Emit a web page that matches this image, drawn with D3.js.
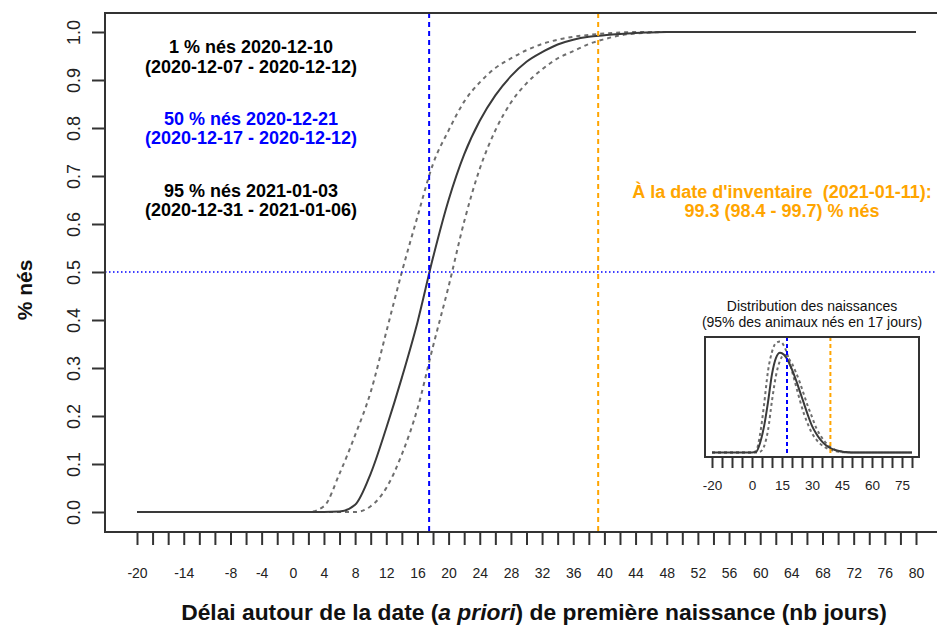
<!DOCTYPE html>
<html>
<head>
<meta charset="utf-8">
<script src="https://cdn.jsdelivr.net/npm/d3@7"></script>
<style>
  body { margin: 0; background: #fff; }
  svg { display: block; font-family: "Liberation Sans", Arial, sans-serif; }
</style>
</head>
<body>
<div id="chart"></div>
<script>
// days relative to the a priori first birth date
const days = [-20, -18, -16, -14, -12, -10, -8, -6, -4, -2, 0, 2, 4, 6, 8, 10, 12, 14, 16, 18, 20,
  22, 24, 26, 28, 30, 32, 34, 36, 38, 40, 42, 44, 46, 48, 50, 52, 54, 56, 58, 60,
  62, 64, 66, 68, 70, 72, 74, 76, 78, 80];

// cumulative proportion born (median, early bound, late bound)
const cdfMid = [0, 0, 0, 0, 0, 0, 0, 0, 0, 0, 0, 0, 0, 0.001, 0.015, 0.08, 0.175, 0.28, 0.395, 0.53, 0.65,
  0.745, 0.815, 0.868, 0.908, 0.938, 0.958, 0.974, 0.984, 0.99, 0.993, 0.996, 0.998, 0.999, 1, 1, 1, 1, 1, 1, 1,
  1, 1, 1, 1, 1, 1, 1, 1, 1, 1];
const cdfEarly = [0, 0, 0, 0, 0, 0, 0, 0, 0, 0, 0, 0, 0.012, 0.08, 0.16, 0.25, 0.375, 0.5, 0.615, 0.725, 0.795,
  0.855, 0.895, 0.925, 0.945, 0.962, 0.975, 0.984, 0.99, 0.994, 0.997, 0.999, 1, 1, 1, 1, 1, 1, 1, 1, 1,
  1, 1, 1, 1, 1, 1, 1, 1, 1, 1];
const cdfLate = [0, 0, 0, 0, 0, 0, 0, 0, 0, 0, 0, 0, 0, 0, 0, 0.012, 0.05, 0.12, 0.215, 0.345, 0.47,
  0.605, 0.715, 0.795, 0.853, 0.893, 0.922, 0.945, 0.96, 0.975, 0.985, 0.993, 0.997, 0.999, 1, 1, 1, 1, 1, 1, 1,
  1, 1, 1, 1, 1, 1, 1, 1, 1, 1];

// birth density for the inset
const densMid = [0, 0, 0, 0, 0, 0, 0, 0, 0, 0, 0, 0.0003, 0.0063, 0.0175, 0.034, 0.053, 0.064, 0.0674, 0.066, 0.062, 0.056,
  0.049, 0.041, 0.033, 0.025, 0.018, 0.013, 0.009, 0.006, 0.004, 0.0025, 0.0015, 0.0008, 0.0004, 0.0002, 0, 0, 0, 0, 0, 0,
  0, 0, 0, 0, 0, 0, 0, 0, 0, 0];
const densEarly = [0, 0, 0, 0, 0, 0, 0, 0, 0, 0, 0, 0.001, 0.012, 0.032, 0.055, 0.068, 0.074, 0.075, 0.072, 0.065, 0.055,
  0.045, 0.035, 0.026, 0.019, 0.013, 0.009, 0.006, 0.004, 0.0025, 0.0015, 0.0008, 0.0003, 0.0001, 0, 0, 0, 0, 0, 0, 0,
  0, 0, 0, 0, 0, 0, 0, 0, 0, 0];
const densLate = [0, 0, 0, 0, 0, 0, 0, 0, 0, 0, 0, 0, 0.0005, 0.004, 0.015, 0.035, 0.052, 0.062, 0.066, 0.064, 0.06,
  0.054, 0.047, 0.039, 0.031, 0.024, 0.017, 0.012, 0.008, 0.005, 0.003, 0.0015, 0.0008, 0.0003, 0, 0, 0, 0, 0, 0, 0,
  0, 0, 0, 0, 0, 0, 0, 0, 0, 0];

const medianDay = 17.5;
const inventoryDay = 39.2;

const xTickLabels = [-20, -14, -8, -4, 0, 4, 8, 12, 16, 20, 24, 28, 32, 36, 40, 44, 48, 52, 56, 60, 64, 68, 72, 76, 80];
const yTicks = [0, 0.1, 0.2, 0.3, 0.4, 0.5, 0.6, 0.7, 0.8, 0.9, 1.0];
const insetTickLabels = [-20, 0, 15, 30, 45, 60, 75];

const annotations = [
  { text: "1 % nés 2020-12-10", y: 53, color: "#000" },
  { text: "(2020-12-07 - 2020-12-12)", y: 73, color: "#000" },
  { text: "50 % nés 2020-12-21", y: 125, color: "#0000ff" },
  { text: "(2020-12-17 - 2020-12-12)", y: 144, color: "#0000ff" },
  { text: "95 % nés 2021-01-03", y: 197, color: "#000" },
  { text: "(2020-12-31 - 2021-01-06)", y: 216, color: "#000" }
];
const inventoryText = ["\u00C0 la date d'inventaire  (2021-01-11):", "99.3 (98.4 - 99.7) % nés"];
const insetTitle = ["Distribution des naissances", "(95% des animaux nés en 17 jours)"];

const BLUE = "#0000ff", ORANGE = "#ffa500", AXIS = "#333";

const svg = d3.select("#chart").append("svg").attr("width", 937).attr("height", 635);

const box = { left: 105, right: 950, top: 13, bottom: 532 };
const x = d3.scaleLinear().domain([-20, 80]).range([137, 916]);
const y = d3.scaleLinear().domain([0, 1]).range([512, 32]);

// curves
const line = d3.line().x(d => x(d[0])).y(d => y(d[1])).curve(d3.curveMonotoneX);
const curveG = svg.append("g").attr("fill", "none").attr("stroke-width", 2);
curveG.append("path").datum(days.map((d, i) => [d, cdfEarly[i]]))
    .attr("d", line).attr("stroke", "#6e6e6e").attr("stroke-dasharray", "4,4");
curveG.append("path").datum(days.map((d, i) => [d, cdfLate[i]]))
    .attr("d", line).attr("stroke", "#6e6e6e").attr("stroke-dasharray", "4,4");
curveG.append("path").datum(days.map((d, i) => [d, cdfMid[i]]))
    .attr("d", line).attr("stroke", "#3a3a3a");

// reference lines
svg.append("line")
    .attr("x1", box.left).attr("x2", box.right).attr("y1", y(0.5)).attr("y2", y(0.5))
    .attr("stroke", BLUE).attr("stroke-width", 1.6).attr("stroke-dasharray", "1.5,2.5");
svg.append("line")
    .attr("x1", x(medianDay)).attr("x2", x(medianDay)).attr("y1", box.top).attr("y2", box.bottom)
    .attr("stroke", BLUE).attr("stroke-width", 2).attr("stroke-dasharray", "5,4");
svg.append("line")
    .attr("x1", x(inventoryDay)).attr("x2", x(inventoryDay)).attr("y1", box.top).attr("y2", box.bottom)
    .attr("stroke", ORANGE).attr("stroke-width", 2).attr("stroke-dasharray", "5,4");

// plot frame
svg.append("rect")
    .attr("x", box.left).attr("y", box.top)
    .attr("width", box.right - box.left).attr("height", box.bottom - box.top)
    .attr("fill", "none").attr("stroke", AXIS).attr("stroke-width", 2);

// x axis
const xAxis = svg.append("g")
    .attr("transform", `translate(0,${box.bottom})`)
    .call(d3.axisBottom(x)
        .tickValues(d3.range(-20, 81, 2))
        .tickSize(13)
        .tickFormat(d => xTickLabels.includes(d) ? String(d) : ""));
xAxis.select(".domain").remove();
xAxis.selectAll(".tick line").attr("stroke", AXIS).attr("stroke-width", 2);
xAxis.selectAll(".tick text")
    .attr("y", 46).attr("dy", 0)
    .attr("fill", "#222").style("font-size", "14px").style("font-family", "Liberation Sans, Arial, sans-serif");

// y axis
const yAxis = svg.append("g")
    .attr("transform", `translate(${box.left},0)`)
    .call(d3.axisLeft(y).tickValues(yTicks).tickSize(13).tickFormat(d3.format(".1f")));
yAxis.select(".domain").remove();
yAxis.selectAll(".tick line").attr("stroke", AXIS).attr("stroke-width", 2);
yAxis.selectAll(".tick text")
    .attr("transform", "rotate(-90)")
    .attr("x", 0).attr("y", -25).attr("dy", 0)
    .attr("text-anchor", "middle")
    .attr("fill", "#222").style("font-size", "18px").style("font-family", "Liberation Sans, Arial, sans-serif");

// axis titles
const xTitle = svg.append("text")
    .attr("x", 534).attr("y", 620)
    .attr("text-anchor", "middle")
    .style("font-size", "22.8px").style("font-weight", "bold").attr("fill", "#111");
xTitle.append("tspan").text("Délai autour de la date (");
xTitle.append("tspan").style("font-style", "italic").text("a priori");
xTitle.append("tspan").text(") de première naissance (nb jours)");

svg.append("text")
    .attr("transform", "translate(32,290) rotate(-90)")
    .attr("text-anchor", "middle")
    .style("font-size", "21px").style("font-weight", "bold").attr("fill", "#111")
    .text("% nés");

// annotations
svg.append("g").selectAll("text").data(annotations).join("text")
    .attr("x", 251).attr("y", d => d.y)
    .attr("text-anchor", "middle")
    .style("font-size", "18px").style("font-weight", "bold")
    .attr("fill", d => d.color)
    .text(d => d.text);

svg.append("g").selectAll("text").data(inventoryText).join("text")
    .attr("x", 782).attr("y", (d, i) => [198, 217][i])
    .attr("text-anchor", "middle")
    .style("font-size", "18px").style("font-weight", "bold")
    .style("white-space", "pre")
    .attr("fill", ORANGE)
    .text(d => d);

// inset: birth distribution
const ibox = { left: 705, right: 919, top: 337, bottom: 457 };
const ix = d3.scaleLinear().domain([-20, 80]).range([712, 912]);
const iy = d3.scaleLinear().domain([0, 0.075]).range([452.5, 341.5]);

svg.append("g").selectAll("text").data(insetTitle).join("text")
    .attr("x", 812).attr("y", (d, i) => [311, 327][i])
    .attr("text-anchor", "middle")
    .style("font-size", "14px").attr("fill", "#111")
    .text(d => d);

svg.append("rect")
    .attr("x", ibox.left).attr("y", ibox.top)
    .attr("width", ibox.right - ibox.left).attr("height", ibox.bottom - ibox.top)
    .attr("fill", "#fff");

const iline = d3.line().x(d => ix(d[0])).y(d => iy(d[1])).curve(d3.curveMonotoneX);
const insetG = svg.append("g").attr("fill", "none").attr("stroke-width", 2);
insetG.append("path").datum(days.map((d, i) => [d, densEarly[i]]))
    .attr("d", iline).attr("stroke", "#6e6e6e").attr("stroke-dasharray", "3,3");
insetG.append("path").datum(days.map((d, i) => [d, densLate[i]]))
    .attr("d", iline).attr("stroke", "#6e6e6e").attr("stroke-dasharray", "3,3");
insetG.append("path").datum(days.map((d, i) => [d, densMid[i]]))
    .attr("d", iline).attr("stroke", "#3a3a3a");

svg.append("line")
    .attr("x1", ix(medianDay)).attr("x2", ix(medianDay)).attr("y1", ibox.top).attr("y2", ibox.bottom)
    .attr("stroke", BLUE).attr("stroke-width", 2).attr("stroke-dasharray", "4,3");
svg.append("line")
    .attr("x1", ix(inventoryDay)).attr("x2", ix(inventoryDay)).attr("y1", ibox.top).attr("y2", ibox.bottom)
    .attr("stroke", ORANGE).attr("stroke-width", 2).attr("stroke-dasharray", "4,3");

svg.append("rect")
    .attr("x", ibox.left).attr("y", ibox.top)
    .attr("width", ibox.right - ibox.left).attr("height", ibox.bottom - ibox.top)
    .attr("fill", "none").attr("stroke", AXIS).attr("stroke-width", 2);

const insetAxis = svg.append("g")
    .attr("transform", `translate(0,${ibox.bottom})`)
    .call(d3.axisBottom(ix)
        .tickValues(d3.range(-20, 81, 5))
        .tickSize(11)
        .tickFormat(d => insetTickLabels.includes(d) ? String(d) : ""));
insetAxis.select(".domain").remove();
insetAxis.selectAll(".tick line").attr("stroke", AXIS).attr("stroke-width", 2);
insetAxis.selectAll(".tick text")
    .attr("y", 33).attr("dy", 0)
    .attr("fill", "#222").style("font-size", "13.5px").style("font-family", "Liberation Sans, Arial, sans-serif");
</script>
</body>
</html>
